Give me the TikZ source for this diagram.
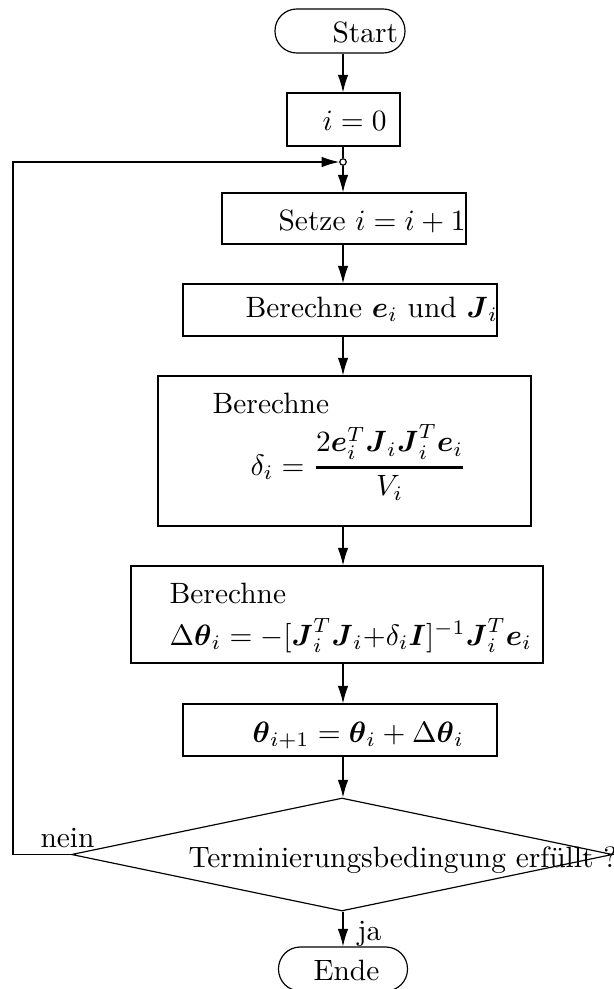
\documentclass[tikz,border=0pt]{standalone}
\usepackage{amsmath}
\usetikzlibrary{arrows.meta,shapes.geometric}

\tikzset{
  box/.style 2 args={draw, rectangle, inner sep=0pt,
    minimum width=#1*0.34pt, minimum height=#2*0.34pt},
  term/.style 2 args={box={#1}{#2}, rounded corners=7.4pt},
  txt/.style={anchor=base west, inner sep=0pt},
}

\begin{document}
\begin{tikzpicture}[x=0.34pt, y=-0.34pt, >={Latex[length=6pt,width=3.6pt]}]
  \useasboundingbox (0,0) rectangle (613,989);
  % boxes
  \node[term={130}{44}] (start) at (340,31) {};
  \node[box={113}{53}] (init) at (343.5,119.5) {};
  \node[draw, circle, fill=white, inner sep=0pt, minimum size=2.2pt] (merge) at (343,162) {};
  \node[box={244}{51}] (setze) at (344,218.5) {};
  \node[box={314}{52}] (calcE) at (340,310) {};
  \node[box={373}{150}] (calcD) at (344.5,451) {};
  \node[box={412}{97}] (calcT) at (337,614.5) {};
  \node[box={314}{52}] (update) at (340,730) {};
  \node[draw, diamond, inner sep=0pt, minimum width=541*0.34pt,
    minimum height=113*0.34pt] (cond) at (342,854.5) {};
  \node[term={129}{44}] (ende) at (343,969) {};
  % texts
  \node[txt] (startT) at (332,43) {Start};
  \node[txt] (initT) at (322,130) {$i = 0$};
  \node[txt] (setzeT) at (278,230) {Setze $i = i + 1$};
  \node[txt] (calcET) at (245,317) {Berechne $\boldsymbol{e}_i$ und $\boldsymbol{J}_i$};
  \node[txt] (calcDT) at (212,413) {Berechne};
  \node[txt] (calcDF) at (250,475)
    {$\delta_i = \genfrac{}{}{0.8pt}{0}{2\boldsymbol{e}_i^T\boldsymbol{J}_i\boldsymbol{J}_i^T\boldsymbol{e}_i}{V_i}$};
  \node[txt] (calcTT) at (169,603) {Berechne};
  \node[txt] (calcTF) at (169,645)
    {$\Delta\boldsymbol{\theta}_i = -[\boldsymbol{J}_i^T\boldsymbol{J}_i{+}\delta_i\boldsymbol{I}]^{-1}\boldsymbol{J}_i^T\boldsymbol{e}_i$};
  \node[txt] (updateT) at (252,742)
    {$\boldsymbol{\theta}_{i+1} = \boldsymbol{\theta}_i + \Delta\boldsymbol{\theta}_i$};
  \node[txt] (condT) at (188,867) {Terminierungsbedingung erfüllt ?};
  \node[txt] (endeT) at (313,980) {Ende};
  \node[txt] (nein) at (40,847) {nein};
  \node[txt] (ja) at (357,940) {ja};
  % flow
  \draw[->] (start.south -| merge) -- (init.north -| merge);
  \draw (init.south -| merge) -- (merge);
  \draw[->] (merge) -- (setze.north -| merge);
  \draw[->] (setze.south -| merge) -- (calcE.north -| merge);
  \draw[->] (calcE.south -| merge) -- (calcD.north -| merge);
  \draw[->] (calcD.south -| merge) -- (calcT.north -| merge);
  \draw[->] (calcT.south -| merge) -- (update.north -| merge);
  \draw[->] (update.south -| merge) -- (cond.north -| merge);
  \draw[->] (cond.south -| merge) -- (ende.north -| merge);
  % loop back
  \draw[->] (cond.west) -- ++(-58,0) |- (merge.west);
\end{tikzpicture}
\end{document}
